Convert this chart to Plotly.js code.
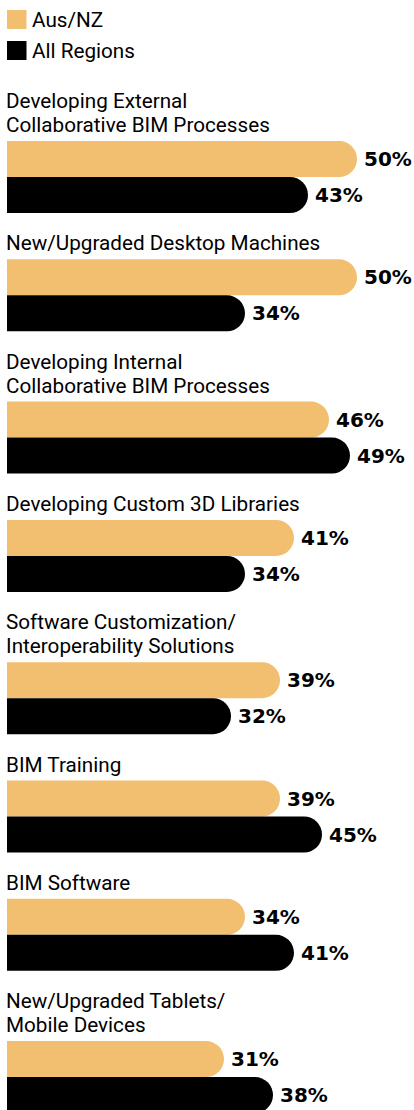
<!DOCTYPE html>
<html>
<head>
<meta charset="utf-8">
<script src="https://cdn.plot.ly/plotly-3.0.1.min.js"></script>
<style>
html,body{margin:0;padding:0;background:#fff;}
#chart{width:414px;height:1110px;}
</style>
</head>
<body>
<div id="chart"></div>
<script>
// ---- data ----
const categories = [
  "Developing External<br>Collaborative BIM Processes",
  "New/Upgraded Desktop Machines",
  "Developing Internal<br>Collaborative BIM Processes",
  "Developing Custom 3D Libraries",
  "Software Customization/<br>Interoperability Solutions",
  "BIM Training",
  "BIM Software",
  "New/Upgraded Tablets/<br>Mobile Devices"
];
const ausNZ      = [50, 50, 46, 41, 39, 39, 34, 31];
const allRegions = [43, 34, 49, 34, 32, 45, 41, 38];
const seriesNames = ["Aus/NZ", "All Regions"];
const seriesColors = ["#F2BE6F", "#000000"];

// ---- layout helpers (pixel-based vertical axis) ----
const W = 414, H = 1110;
const barH = 36;          // thickness of each bar
const lineH = 24;         // label line height
const groupStep = 118.3;  // step for a single-line label group
const firstTop = 141;
const pxPerUnit = 7.0;
const x0px = 7;

const tops = [];
let t = firstTop;
categories.forEach((c, i) => {
  const lines = c.split("<br>").length;
  if (i > 0) t += groupStep + lineH * (lines - 1);
  tops.push(t);
});
const yA = tops.map(v => v + barH / 2);
const yB = tops.map(v => v + barH * 1.5);

const labelFont = {family: "Roboto, 'Liberation Sans', sans-serif", size: 20.7, color: "#000"};
const valueFont = {family: "'DejaVu Sans', sans-serif", size: 20, color: "#000", weight: "bold"};

function barTrace(vals, ys, idx) {
  return {
    type: "bar", orientation: "h",
    x: vals, y: ys, width: barH,
    name: seriesNames[idx],
    marker: {color: seriesColors[idx], cornerradius: "50%", line: {width: 0}},
    texttemplate: "\u2009%{x}%", textposition: "outside",
    textfont: valueFont, cliponaxis: false,
    hoverinfo: "skip", showlegend: false
  };
}

const annotations = [];
const shapes = [];
categories.forEach((c, i) => {
  const lines = c.split("<br>");
  lines.forEach((ln, k) => {
    annotations.push({
      xref: "x", yref: "y", x: 0, y: tops[i] - 16 - lineH * (lines.length - 1 - k),
      xanchor: "left", yanchor: "middle", showarrow: false,
      text: ln, font: labelFont, xshift: -2, borderpad: 0
    });
  });
});

// legend (drawn manually to match large square swatches)
seriesNames.forEach((n, i) => {
  const cy = 19.5 + 31 * i;
  shapes.push({
    type: "rect", xref: "paper", yref: "y",
    x0: x0px / W, x1: (x0px + 19.5) / W, y0: cy - 9.5, y1: cy + 9.5,
    fillcolor: seriesColors[i], line: {width: 0}
  });
  annotations.push({
    xref: "paper", yref: "y", x: 33 / W, y: cy,
    xanchor: "left", yanchor: "middle", showarrow: false,
    text: n, font: labelFont, borderpad: 0, xshift: -2
  });
});

const layout = {
  width: W, height: H,
  margin: {l: 0, r: 0, t: 0, b: 0, pad: 0},
  paper_bgcolor: "#fff", plot_bgcolor: "#fff",
  barmode: "overlay",
  xaxis: {visible: false, range: [-x0px / pxPerUnit, (W - x0px) / pxPerUnit], fixedrange: true},
  yaxis: {visible: false, range: [H, 0], fixedrange: true},
  showlegend: false,
  annotations: annotations,
  shapes: shapes
};

Plotly.newPlot("chart", [barTrace(ausNZ, yA, 0), barTrace(allRegions, yB, 1)], layout,
  {staticPlot: true, displayModeBar: false});
</script>
</body>
</html>
